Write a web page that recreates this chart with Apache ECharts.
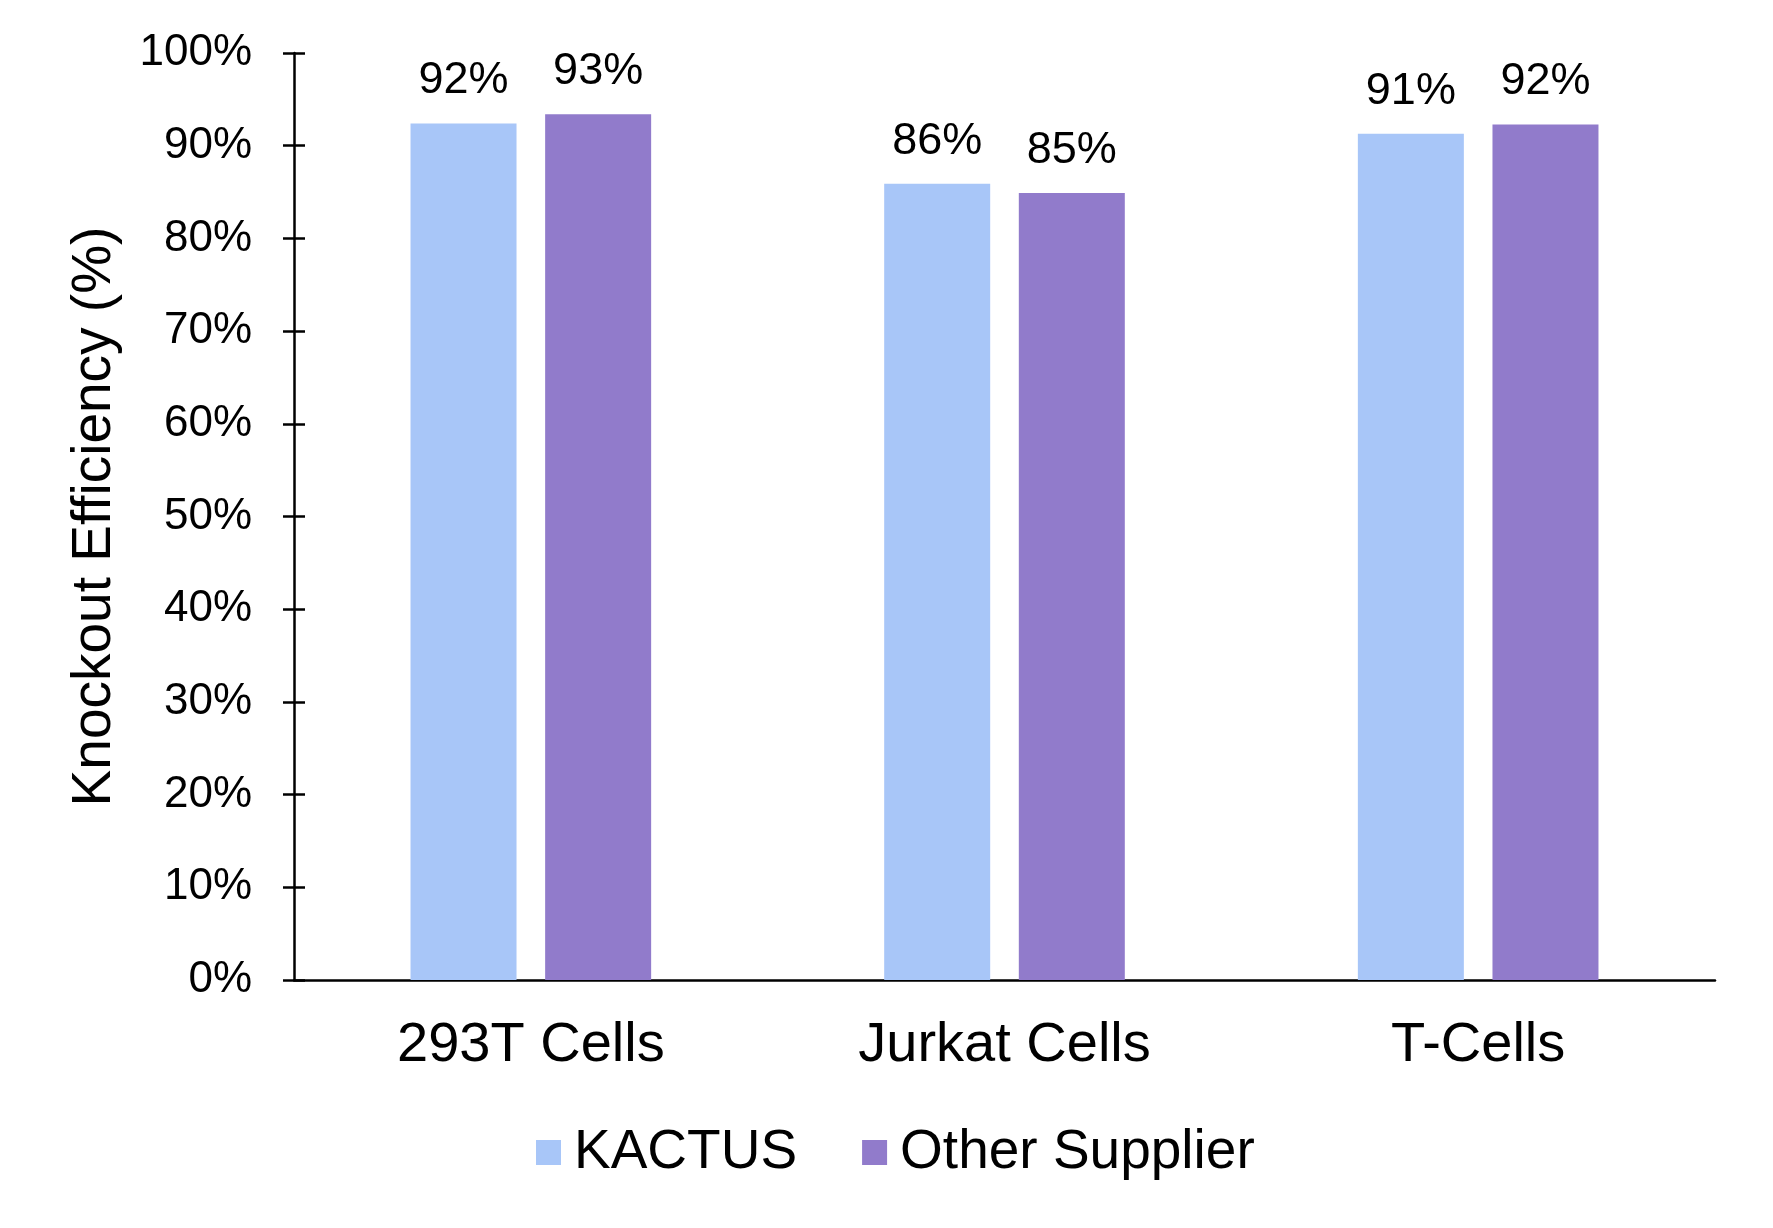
<!DOCTYPE html>
<html>
<head>
<meta charset="utf-8">
<script src="https://cdn.jsdelivr.net/npm/echarts@6/dist/echarts.min.js"></script>
<style>
html,body{margin:0;padding:0;background:#fff;}
#chart{width:1773px;height:1228px;}
</style>
</head>
<body>
<div id="chart"></div>
<script>
const categories = ["293T Cells", "Jurkat Cells", "T-Cells"];
const seriesNames = ["KACTUS", "Other Supplier"];
const kactusValues = [92.4, 85.9, 91.3];
const otherValues = [93.4, 84.9, 92.3];
const yTicks = [0, 10, 20, 30, 40, 50, 60, 70, 80, 90, 100];

const FONT = '"Liberation Sans", Arial, Helvetica, sans-serif';
const chart = echarts.init(document.getElementById('chart'), null, {renderer: 'canvas'});

const labelCfg = {
  show: true,
  position: 'top',
  distance: 20,
  color: '#000',
  fontSize: 45,
  fontFamily: FONT,
  formatter: p => Math.round(p.value) + '%'
};

chart.setOption({
  backgroundColor: '#fff',
  animation: false,
  grid: {left: 294, top: 53, width: 1421, bottom: 248, containLabel: false},
  legend: {
    data: seriesNames,
    left: 531,
    top: 1120,
    icon: 'rect',
    itemWidth: 25,
    itemHeight: 25,
    itemGap: 65,
    textStyle: {fontSize: 55, fontFamily: FONT, color: '#000', padding: [0, 0, 0, 8]}
  },
  xAxis: {
    type: 'category',
    data: categories,
    axisLine: {show: true, lineStyle: {color: '#000', width: 2.5}},
    axisTick: {show: false},
    axisLabel: {color: '#000', fontSize: 56, fontFamily: FONT, margin: 38}
  },
  yAxis: [{
    type: 'value',
    min: yTicks[0],
    max: yTicks[yTicks.length - 1],
    interval: 10,
    name: 'Knockout Efficiency (%)',
    nameLocation: 'middle',
    nameGap: 172,
    nameTextStyle: {fontSize: 55, fontFamily: FONT, color: '#000'},
    axisLine: {show: true, lineStyle: {color: '#000', width: 2.5}},
    axisTick: {show: true, length: 11, lineStyle: {color: '#000', width: 2.5}},
    axisLabel: {color: '#000', fontSize: 44, fontFamily: FONT, margin: 42, formatter: v => v + '%'},
    splitLine: {show: false}
  }, {
    type: 'value',
    position: 'left',
    min: yTicks[0],
    max: yTicks[yTicks.length - 1],
    interval: 10,
    axisLine: {show: false},
    axisTick: {show: true, inside: true, length: 11, lineStyle: {color: '#000', width: 2.5}},
    axisLabel: {show: false},
    splitLine: {show: false}
  }],
  series: [{
    name: seriesNames[0],
    type: 'bar',
    data: kactusValues,
    barWidth: 106,
    barGap: '27%',
    itemStyle: {color: '#A8C6F8'},
    label: labelCfg
  }, {
    name: seriesNames[1],
    type: 'bar',
    data: otherValues,
    barWidth: 106,
    barGap: '27%',
    itemStyle: {color: '#917BCB'},
    label: labelCfg
  }]
});
</script>
</body>
</html>
